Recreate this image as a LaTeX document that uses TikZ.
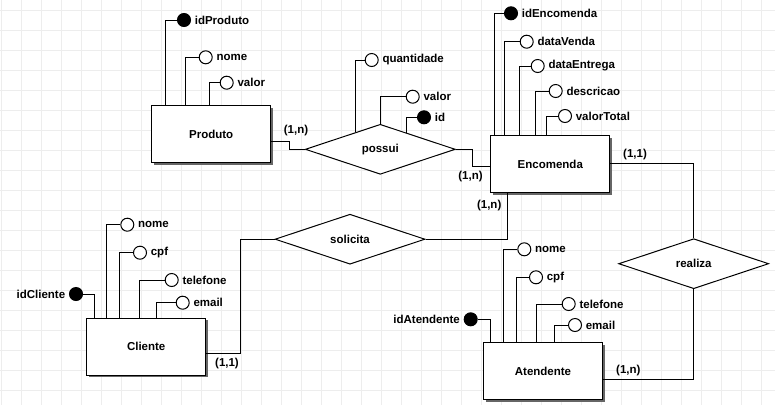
\documentclass[tikz,border=0pt]{standalone}
\usepackage{fontspec}
\setmainfont{Liberation Sans}
\usetikzlibrary{shapes.geometric,shadows}

\definecolor{grade}{RGB}{237,237,237}

\tikzset{
  entidade/.style={rectangle, draw, fill=white, minimum width=119pt, minimum height=57pt,
    drop shadow={shadow xshift=2pt, shadow yshift=-2pt, fill=black!60, opacity=1}},
  relacao/.style={diamond, draw, fill=white, minimum width=150pt, minimum height=50pt, inner sep=0pt},
  atrib/.style={circle, draw, fill=white, minimum size=13pt, inner sep=0pt},
  chave/.style={atrib, fill=black},
  card/.style={inner sep=1pt}
}

\begin{document}
\begin{tikzpicture}[x=1pt, y=-1pt, line width=1pt, font=\bfseries\fontsize{11.5}{13}\selectfont]
\useasboundingbox (0,0) rectangle (775,405);

% Grade de fundo
	\foreach \x in {1.3, 21.3, ..., 775}
		\draw[grade, line width=0.8pt] (\x,0) -- (\x,405);
	\foreach \y in {10, 30, ..., 405}
		\draw[grade, line width=0.8pt] (0,\y) -- (775,\y);

% Entidades
\node[entidade] (produto) at (211.2,134) {Produto};
\node[entidade] (encomenda) at (550.3,164.2) {Encomenda};
\node[entidade] (cliente) at (146.2,346.7) {Cliente};
\node[entidade] (atendente) at (543,371) {Atendente};

% Relacionamentos
\node[relacao] (possui) at (380.3,149.3) {possui};
\node[relacao] (solicita) at (350,239.2) {solicita};
\node[relacao] (realiza) at (693.7,263.7) {realiza};

% Ligacoes
\draw ([yshift=-7pt]produto.east) -- ++(18,0) |- (possui.west);
\draw (possui.east) -- ++(17,0) |- ([yshift=-2.5pt]encomenda.west);
\draw ([yshift=1pt]encomenda.east) -| (realiza.north);
\draw (realiza.south) |- ([yshift=-8.3pt]atendente.east);
\draw ([xshift=-43.3pt]encomenda.south) |- (solicita.east);
\draw ([yshift=-6.6pt]cliente.east) -- ++(34.5,0) |- (solicita.west);

\node[card] (cardProd) at (296,131) {(1,n)};
\node[card] (cardEncP) at (470.5,176.7) {(1,n)};
\node[card] (cardEncR) at (635,154.3) {(1,1)};
\node[card] (cardAt) at (628.3,370.3) {(1,n)};
\node[card] (cardEncS) at (489.2,206) {(1,n)};
\node[card] (cardCli) at (227,363.3) {(1,1)};

% Atributos de Produto
\node[chave, label=right:idProduto] (idProduto) at (184,20) {};
\draw (idProduto.west) -| ([xshift=14.6pt]produto.north west);
\foreach \n/\x/\y/\dx/\txt in {nomeProd/205.7/57.3/34.6/nome, valorProd/226.7/82.7/58.6/valor}{
	\node[atrib, label=right:\txt] (\n) at (\x,\y) {};
	\draw (\n.west) -| ([xshift=\dx pt]produto.north west);
}

% Atributos de possui
\node[atrib, label=right:quantidade] (quantidade) at (371.7,60) {};
\draw (quantidade.west) -| (possui.146);
\node[atrib, label=right:valor] (valorPossui) at (412.7,96.7) {};
\draw (valorPossui.west) -| (possui.north);
\node[chave, label=right:id] (idPossui) at (424,117.3) {};
\draw (idPossui.west) -| (possui.33);

% Atributos de Encomenda
\node[chave, label=right:idEncomenda] (idEncomenda) at (511,13.3) {};
\draw (idEncomenda.west) -| ([xshift=4.2pt]encomenda.north west);
\foreach \n/\x/\y/\dx in {dataVenda/526.7/41.7/14.5, dataEntrega/537.7/66/29.5, descricao/555.7/91/44.9, valorTotal/565/116/56.5}{
	\node[atrib, label=right:\n] (\n) at (\x,\y) {};
	\draw (\n.west) -| ([xshift=\dx pt]encomenda.north west);
}

% Atributos de Cliente
\node[chave, label=left:idCliente] (idCliente) at (76,294) {};
\draw (idCliente.east) -| ([xshift=8pt]cliente.north west);
\foreach \n/\x/\y/\dx/\txt in {nomeCli/127.3/224.7/20.6/nome, cpfCli/140/252.7/33.6/cpf, telCli/171.7/280/53.6/telefone, emailCli/182.7/302.7/70/email}{
	\node[atrib, label=right:\txt] (\n) at (\x,\y) {};
	\draw (\n.west) -| ([xshift=\dx pt]cliente.north west);
}

% Atributos de Atendente
\node[chave, label=left:idAtendente] (idAtendente) at (470.7,319.3) {};
\draw (idAtendente.east) -| ([xshift=7.8pt]atendente.north west);
\foreach \n/\x/\y/\dx/\txt in {nomeAt/524.3/249.3/20.8/nome, cpfAt/536/277.3/33.8/cpf, telAt/568.7/304/53.8/telefone, emailAt/575/325/71.8/email}{
	\node[atrib, label=right:\txt] (\n) at (\x,\y) {};
	\draw (\n.west) -| ([xshift=\dx pt]atendente.north west);
}
\end{tikzpicture}
\end{document}
